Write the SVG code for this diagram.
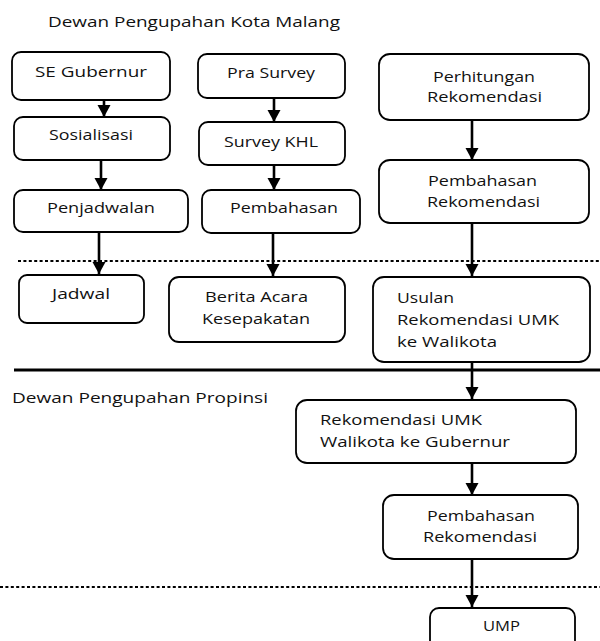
<svg xmlns="http://www.w3.org/2000/svg" width="600" height="641" viewBox="0 0 600 641">
<style>
.box{fill:#fff;stroke:#000;stroke-width:1.8}
text{font-family:"Open Sans","Liberation Sans",sans-serif;font-size:15px;fill:#111}
.arr{stroke:#000;stroke-width:2.6;fill:none;marker-end:url(#ah)}
.dot{stroke:#000;stroke-width:2;stroke-dasharray:3 2.4;fill:none}
.sol{stroke:#000;stroke-width:3.2;fill:none}
</style>
<defs>
<marker id="ah" markerUnits="userSpaceOnUse" markerWidth="14" markerHeight="14" refX="12" refY="6.5" orient="auto">
<path d="M0,0 L12,6.5 L0,13 Z" fill="#000"/>
</marker>
</defs>
<rect width="600" height="641" fill="#fff"/>
<g id="separators">
<line class="dot" x1="18" y1="261" x2="600" y2="261"/>
<line class="sol" x1="14" y1="370" x2="600" y2="370"/>
<line class="dot" x1="0" y1="587" x2="600" y2="587"/>
</g>
<g id="labels">
<text x="48" y="27" textLength="292" lengthAdjust="spacingAndGlyphs">Dewan Pengupahan Kota Malang</text>
<text x="12" y="403" textLength="256" lengthAdjust="spacingAndGlyphs">Dewan Pengupahan Propinsi</text>
</g>
<g id="connectors">
<line class="arr" x1="104" y1="100" x2="104" y2="117"/>
<line class="arr" x1="101" y1="160" x2="101" y2="190"/>
<line class="arr" x1="274" y1="98" x2="274" y2="122"/>
<line class="arr" x1="274" y1="165" x2="274" y2="190"/>
<line class="arr" x1="99" y1="232" x2="99" y2="274"/>
<line class="arr" x1="273" y1="233" x2="273" y2="276"/>
<line class="arr" x1="472" y1="120" x2="472" y2="160"/>
<line class="arr" x1="472" y1="223" x2="472" y2="276"/>
<line class="arr" x1="472" y1="362" x2="472" y2="399"/>
<line class="arr" x1="472" y1="463" x2="472" y2="495"/>
<line class="arr" x1="472" y1="559" x2="472" y2="607"/>
</g>
<g id="se-gubernur"><rect class="box" x="12" y="52" width="158" height="48" rx="9"/><text x="35" y="77" textLength="112" lengthAdjust="spacingAndGlyphs">SE Gubernur</text></g>
<g id="pra-survey"><rect class="box" x="198" y="54" width="147" height="44" rx="9"/><text x="227" y="78" textLength="88" lengthAdjust="spacingAndGlyphs">Pra Survey</text></g>
<g id="sosialisasi"><rect class="box" x="14" y="117" width="156" height="43" rx="9"/><text x="49" y="140" textLength="84" lengthAdjust="spacingAndGlyphs">Sosialisasi</text></g>
<g id="survey-khl"><rect class="box" x="199" y="122" width="146" height="43" rx="9"/><text x="224" y="147" textLength="94" lengthAdjust="spacingAndGlyphs">Survey KHL</text></g>
<g id="penjadwalan"><rect class="box" x="14" y="190" width="174" height="42" rx="9"/><text x="47" y="213" textLength="108" lengthAdjust="spacingAndGlyphs">Penjadwalan</text></g>
<g id="pembahasan"><rect class="box" x="202" y="190" width="158" height="43" rx="9"/><text x="230" y="213" textLength="108" lengthAdjust="spacingAndGlyphs">Pembahasan</text></g>
<g id="perhitungan-rekomendasi"><rect class="box" x="379" y="54" width="210" height="66" rx="11"/><text x="433" y="82" textLength="102" lengthAdjust="spacingAndGlyphs">Perhitungan</text><text x="427" y="102" textLength="115" lengthAdjust="spacingAndGlyphs">Rekomendasi</text></g>
<g id="pembahasan-rekomendasi-1"><rect class="box" x="379" y="160" width="210" height="63" rx="11"/><text x="428" y="186" textLength="109" lengthAdjust="spacingAndGlyphs">Pembahasan</text><text x="427" y="207" textLength="113" lengthAdjust="spacingAndGlyphs">Rekomendasi</text></g>
<g id="jadwal"><rect class="box" x="19" y="275" width="125" height="48" rx="8"/><text x="52" y="299" textLength="58" lengthAdjust="spacingAndGlyphs">Jadwal</text></g>
<g id="berita-acara"><rect class="box" x="169" y="277" width="176" height="65" rx="10"/><text x="205" y="302" textLength="103" lengthAdjust="spacingAndGlyphs">Berita Acara</text><text x="202" y="324" textLength="108" lengthAdjust="spacingAndGlyphs">Kesepakatan</text></g>
<g id="usulan"><rect class="box" x="373" y="277" width="217" height="85" rx="11"/><text x="397" y="303" textLength="57" lengthAdjust="spacingAndGlyphs">Usulan</text><text x="397" y="325" textLength="162" lengthAdjust="spacingAndGlyphs">Rekomendasi UMK</text><text x="397" y="347" textLength="100" lengthAdjust="spacingAndGlyphs">ke Walikota</text></g>
<g id="rekomendasi-umk-walikota"><rect class="box" x="296" y="400" width="280" height="63" rx="11"/><text x="320" y="425" textLength="162" lengthAdjust="spacingAndGlyphs">Rekomendasi UMK</text><text x="320" y="447" textLength="190" lengthAdjust="spacingAndGlyphs">Walikota ke Gubernur</text></g>
<g id="pembahasan-rekomendasi-2"><rect class="box" x="383" y="495" width="195" height="64" rx="11"/><text x="427" y="521" textLength="108" lengthAdjust="spacingAndGlyphs">Pembahasan</text><text x="423" y="542" textLength="114" lengthAdjust="spacingAndGlyphs">Rekomendasi</text></g>
<g id="ump"><rect class="box" x="430" y="608" width="145" height="50" rx="9"/><text x="483" y="631" textLength="37" lengthAdjust="spacingAndGlyphs">UMP</text></g>
</svg>
